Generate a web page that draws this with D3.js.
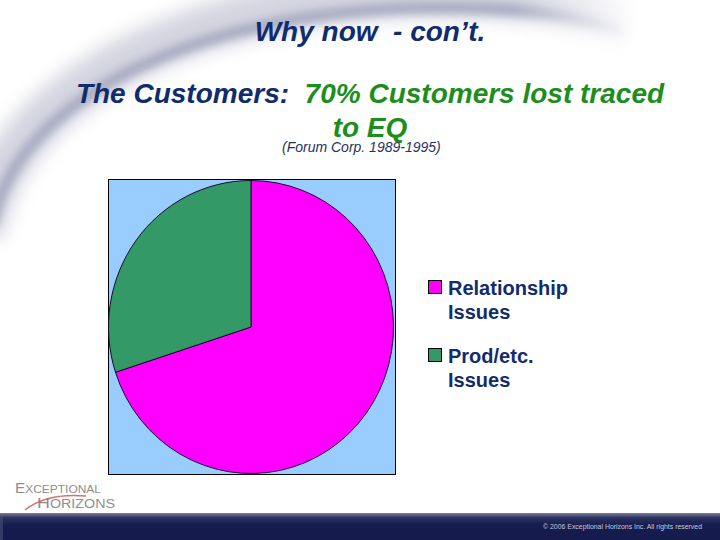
<!DOCTYPE html>
<html>
<head>
<meta charset="utf-8">
<script src="https://cdn.jsdelivr.net/npm/d3@7"></script>
<style>
  html, body { margin: 0; padding: 0; background: #fff; }
  svg { display: block; }
</style>
</head>
<body>
<svg id="chart" width="720" height="540"></svg>
<script>
// ---- data ----
const titleText = "Why now  - con\u2019t.";
const subtitleLead = "The Customers:  ";
const subtitleHighlight1 = "70% Customers lost traced";
const subtitleHighlight2 = "to EQ";
const sourceText = "(Forum Corp. 1989-1995)";
const categories = ["Relationship Issues", "Prod/etc. Issues"];
const values = [70, 30];
const sliceColors = ["#FF00FF", "#339966"];
const footerText = "\u00A9 2006 Exceptional Horizons Inc. All rights reserved";

const svg = d3.select("#chart");
const font = "'Liberation Sans', Arial, Helvetica, sans-serif";
const navy = "#112c6c";
const green = "#1d8e1d";

const defs = svg.append("defs");
defs.append("filter").attr("id", "blur1").attr("x", "-20%").attr("y", "-20%").attr("width", "140%").attr("height", "140%")
  .append("feGaussianBlur").attr("stdDeviation", 9);
defs.append("filter").attr("id", "blur2").attr("x", "-20%").attr("y", "-20%").attr("width", "140%").attr("height", "140%")
  .append("feGaussianBlur").attr("stdDeviation", 4);
const bg = defs.append("linearGradient").attr("id", "barGrad").attr("x1", 0).attr("y1", 0).attr("x2", 0).attr("y2", 1);
bg.append("stop").attr("offset", "0%").attr("stop-color", "#7a7f9c");
bg.append("stop").attr("offset", "18%").attr("stop-color", "#2a3060");
bg.append("stop").attr("offset", "45%").attr("stop-color", "#161c4e");
bg.append("stop").attr("offset", "100%").attr("stop-color", "#151b4c");
const fade = defs.append("linearGradient").attr("id", "fadeGrad").attr("gradientUnits", "userSpaceOnUse")
  .attr("x1", 0).attr("y1", 0).attr("x2", 640).attr("y2", 0);
fade.append("stop").attr("offset", "0%").attr("stop-color", "#fff").attr("stop-opacity", 1);
fade.append("stop").attr("offset", "80%").attr("stop-color", "#fff").attr("stop-opacity", 1);
fade.append("stop").attr("offset", "100%").attr("stop-color", "#fff").attr("stop-opacity", 0);
defs.append("mask").attr("id", "fadeMask").append("rect")
  .attr("x", -50).attr("y", -50).attr("width", 800).attr("height", 400).attr("fill", "url(#fadeGrad)");

// ---- decorative swoosh ----
const swoosh = svg.append("g").attr("mask", "url(#fadeMask)");
swoosh.append("path")
  .attr("d", "M -20,235 C 5,90 190,0 420,-6 C 530,-8 590,6 640,26")
  .attr("fill", "none").attr("stroke", "#c9cad8").attr("stroke-width", 46)
  .attr("filter", "url(#blur1)").attr("opacity", 0.8);
swoosh.append("path")
  .attr("d", "M -8,225 C 15,100 195,12 420,8 C 525,6 585,16 625,32")
  .attr("fill", "none").attr("stroke", "#9a9db8").attr("stroke-width", 12)
  .attr("filter", "url(#blur2)").attr("opacity", 0.75);

// ---- titles ----
svg.append("text")
  .attr("x", 370).attr("y", 41)
  .attr("text-anchor", "middle")
  .attr("font-family", font).attr("font-size", 28).attr("font-weight", "bold").attr("font-style", "italic")
  .attr("fill", navy).style("white-space", "pre")
  .text(titleText);

const sub = svg.append("text")
  .attr("x", 370).attr("y", 103)
  .attr("text-anchor", "middle")
  .attr("font-family", font).attr("font-size", 28).attr("font-weight", "bold").attr("font-style", "italic")
  .style("white-space", "pre");
sub.append("tspan").attr("fill", navy).text(subtitleLead);
sub.append("tspan").attr("fill", green).text(subtitleHighlight1);

svg.append("text")
  .attr("x", 370).attr("y", 137)
  .attr("text-anchor", "middle")
  .attr("font-family", font).attr("font-size", 28).attr("font-weight", "bold").attr("font-style", "italic")
  .attr("fill", green)
  .text(subtitleHighlight2);

svg.append("text")
  .attr("x", 282).attr("y", 152)
  .attr("font-family", font).attr("font-size", 14).attr("font-style", "italic")
  .attr("fill", "#26335e")
  .text(sourceText);

// ---- pie ----
const box = { x: 108, y: 179, w: 287, h: 295 };
svg.append("rect")
  .attr("x", box.x + 0.5).attr("y", box.y + 0.5).attr("width", box.w).attr("height", box.h)
  .attr("fill", "#99CCFF").attr("stroke", "#000").attr("stroke-width", 1);

const cx = 251, cy = 327, rx = 142.5, ry = 146.5;
const pie = d3.pie().sort(null).value(d => d)(values);
const arc = d3.arc().innerRadius(0).outerRadius(ry);
svg.append("g")
  .attr("transform", `translate(${cx},${cy}) scale(${rx / ry},1)`)
  .selectAll("path").data(pie).join("path")
  .attr("d", arc)
  .attr("fill", (d, i) => sliceColors[i])
  .attr("stroke", "#1a0a2a").attr("stroke-width", 1)
  .attr("vector-effect", "non-scaling-stroke");

// ---- legend ----
const legendY = d3.scaleOrdinal().domain(categories).range([280, 348]);
const lg = svg.append("g").selectAll("g").data(categories).join("g")
  .attr("transform", d => `translate(428,${legendY(d)})`);
lg.append("rect")
  .attr("x", 0.5).attr("y", 0.5).attr("width", 13).attr("height", 13)
  .attr("fill", (d, i) => sliceColors[i]).attr("stroke", "#000").attr("stroke-width", 1);
lg.append("text")
  .attr("font-family", font).attr("font-size", 20).attr("font-weight", "bold").attr("fill", navy)
  .selectAll("tspan").data(d => d.split(" ")).join("tspan")
  .attr("x", 20).attr("y", (d, i) => 15 + i * 24)
  .text(d => d);

// ---- logo ----
const logo = svg.append("g").attr("fill", "#8e8e8e").attr("font-family", "'Liberation Sans', Arial, sans-serif");
const t1 = logo.append("text").attr("x", 15).attr("y", 493).attr("textLength", 86).attr("lengthAdjust", "spacingAndGlyphs");
t1.append("tspan").attr("font-size", 14).text("E");
t1.append("tspan").attr("font-size", 11).text("XCEPTIONAL");
const t2 = logo.append("text").attr("x", 37).attr("y", 508).attr("textLength", 78).attr("lengthAdjust", "spacingAndGlyphs");
t2.append("tspan").attr("font-size", 15).text("H");
t2.append("tspan").attr("font-size", 12).text("ORIZONS");
logo.append("path")
  .attr("d", "M 25,510 C 40,498 62,494 86,496")
  .attr("fill", "none").attr("stroke", "#c8595a").attr("stroke-width", 1.4).attr("opacity", 0.85);

// ---- footer bar ----
svg.append("rect").attr("x", 0).attr("y", 513).attr("width", 720).attr("height", 27).attr("fill", "url(#barGrad)");
svg.append("rect").attr("x", 0).attr("y", 516).attr("width", 3).attr("height", 24).attr("fill", "#4a5078").attr("opacity", 0.6);
svg.append("text")
  .attr("x", 543).attr("y", 529)
  .attr("font-family", font).attr("font-size", 6.5).attr("fill", "#c9cadb")
  .attr("textLength", 159).attr("lengthAdjust", "spacingAndGlyphs")
  .text(footerText);
</script>
</body>
</html>
